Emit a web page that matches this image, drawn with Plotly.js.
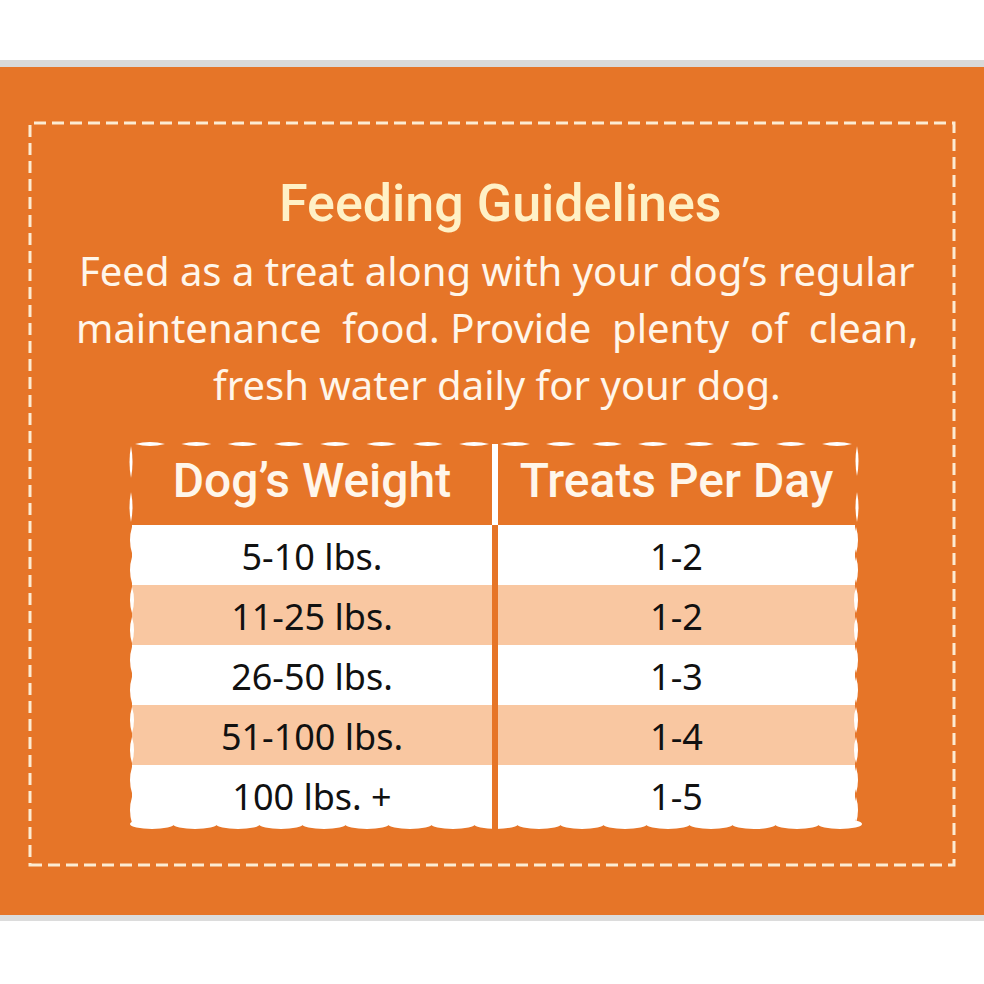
<!DOCTYPE html>
<html>
<head>
<meta charset="utf-8">
<script src="https://cdn.plot.ly/plotly-3.0.1.min.js"></script>
<style>html,body{margin:0;padding:0;background:#fff;}#chart{width:984px;height:984px;}</style>
</head>
<body>
<div id="chart"></div>
<script>
// ---- data ----
const titleText = "Feeding Guidelines";
const introLines = [
  "Feed as a treat along with your dog’s regular",
  "maintenance  food. Provide  plenty  of  clean,",
  "fresh water daily for your dog."
];
const headers = ["Dog’s Weight", "Treats Per Day"];
const dogWeights = ["5-10 lbs.", "11-25 lbs.", "26-50 lbs.", "51-100 lbs.", "100 lbs. +"];
const treatsPerDay = ["1-2", "1-2", "1-3", "1-4", "1-5"];

// ---- style ----
const ORANGE = "#E67528";
const PEACH = "#F9C7A1";
const CREAM = "#FFF1C6";
const WHITE = "#FFFFFF";
const CLEAR = "rgba(0,0,0,0)";
const rowFills = dogWeights.map((_, i) => i % 2 === 0 ? WHITE : PEACH);
const headFont = "Roboto, 'Noto Sans', sans-serif";
const bodyFont = "'Noto Sans', 'Open Sans', sans-serif";

const S = 984;
const px = x => x / S;
const py = y => 1 - y / S;

function rect(x0, y0, x1, y1, color) {
  return {type: 'rect', xref: 'paper', yref: 'paper', x0: px(x0), x1: px(x1), y0: py(y1), y1: py(y0),
          fillcolor: color, line: {width: 0}, layer: 'above'};
}
function hLens(xa, xb, y, h, color) {
  const xc = (xa + xb) / 2;
  return {type: 'path', xref: 'paper', yref: 'paper', layer: 'above', fillcolor: color, line: {width: 0},
    path: `M ${px(xa)},${py(y)} Q ${px(xc)},${py(y - h)} ${px(xb)},${py(y)} Q ${px(xc)},${py(y + h)} ${px(xa)},${py(y)} Z`};
}
function vLens(x, ya, yb, w, color) {
  const yc = (ya + yb) / 2;
  return {type: 'path', xref: 'paper', yref: 'paper', layer: 'above', fillcolor: color, line: {width: 0},
    path: `M ${px(x)},${py(ya)} Q ${px(x - w)},${py(yc)} ${px(x)},${py(yb)} Q ${px(x + w)},${py(yc)} ${px(x)},${py(ya)} Z`};
}
function ell(cx, cy, rx, ry, color) {
  return {type: 'circle', xref: 'paper', yref: 'paper', layer: 'above', fillcolor: color, line: {width: 0},
    x0: px(cx - rx), x1: px(cx + rx), y0: py(cy + ry), y1: py(cy - ry)};
}

const shapes = [];
// background bands
shapes.push(Object.assign(rect(0, 60, 984, 67, "#D9D9D9"), {layer: 'below'}));
shapes.push(Object.assign(rect(0, 67, 984, 915, ORANGE), {layer: 'below'}));
shapes.push(Object.assign(rect(0, 915, 984, 921, "#DCDCDC"), {layer: 'below'}));
// dashed frame
shapes.push({type: 'rect', xref: 'paper', yref: 'paper', layer: 'below',
  x0: px(30), x1: px(954), y0: py(865), y1: py(123),
  line: {color: "#FCEBD2", width: 3, dash: "12px,6px"}, fillcolor: CLEAR});

// bottom wavy edge
for (let x = 152; x <= 840; x += 43) shapes.push(ell(x, 824, 22, 5, WHITE));
// left/right wavy body edges
for (let y = 527; y <= 818; y += 30) {
  shapes.push(vLens(132, y, y + 26, 4, WHITE));
  shapes.push(vLens(856, y, y + 26, 4, WHITE));
}
// header scallops (top)
for (let k = 0; k < 8; k++) {
  shapes.push(hLens(135 + 46.3 * k, 165 + 46.3 * k, 444, 4, WHITE));
  shapes.push(hLens(500 + 46 * k, 530 + 46 * k, 444, 4, WHITE));
}
// header scallops (sides)
shapes.push(vLens(131, 446, 478, 3, WHITE));
shapes.push(vLens(131, 492, 522, 3, WHITE));
shapes.push(vLens(857, 446, 476, 3, WHITE));
shapes.push(vLens(857, 492, 522, 3, WHITE));
// column divider: white in header, orange through body
shapes.push(rect(492, 444, 498, 525, WHITE));
shapes.push(rect(492, 525, 498, 834, ORANGE));

const annotations = [{
  text: titleText, xref: 'paper', yref: 'paper', x: px(500), y: py(203),
  xanchor: 'center', yanchor: 'middle', showarrow: false,
  font: {family: headFont, size: 52, color: CREAM, weight: 500}
}];
const lineY = [270, 328, 384];
introLines.forEach((t, i) => annotations.push({
  text: t, xref: 'paper', yref: 'paper', x: px(497), y: py(lineY[i]),
  xanchor: 'center', yanchor: 'middle', showarrow: false,
  font: {family: bodyFont, size: 40, color: "#FFF6EA"}
}));

// fill table (cell backgrounds, one cell per data row) + text table (same data, text centred vertically)
function fillTable(x0, x1, vals) {
  return {
    type: 'table',
    domain: {x: [px(x0), px(x1)], y: [py(826), py(443)]},
    columnwidth: [1],
    header: {values: [""], fill: {color: ORANGE}, line: {width: 0, color: ORANGE},
      align: 'center', height: 82, font: {family: headFont, size: 20, color: CLEAR}},
    cells: {values: [vals.map(() => "")], fill: {color: [rowFills]}, line: {width: 0, color: CLEAR},
      align: 'center', height: 60, font: {family: bodyFont, size: 20, color: CLEAR}}
  };
}
function textTable(x0, x1, header, vals) {
  return {
    type: 'table',
    domain: {x: [px(x0), px(x1)], y: [py(836), py(453)]},
    columnwidth: [1],
    header: {values: [header], fill: {color: CLEAR}, line: {width: 0, color: CLEAR},
      align: 'center', height: 82, font: {family: headFont, size: 48, color: "#FFF6EA", weight: 500}},
    cells: {values: [vals], fill: {color: CLEAR}, line: {width: 0, color: CLEAR},
      align: 'center', height: 60, font: {family: bodyFont, size: 36, color: "#111111"}}
  };
}

const data = [
  fillTable(132, 492, dogWeights),
  fillTable(498, 856, treatsPerDay),
  textTable(132, 492, headers[0], dogWeights),
  textTable(498, 856, headers[1], treatsPerDay)
];

const layout = {
  width: 984, height: 984, margin: {l: 0, r: 0, t: 0, b: 0, pad: 0},
  paper_bgcolor: WHITE, plot_bgcolor: CLEAR,
  showlegend: false, shapes: shapes, annotations: annotations
};
Plotly.newPlot('chart', data, layout, {displayModeBar: false, staticPlot: true});
</script>
</body>
</html>
